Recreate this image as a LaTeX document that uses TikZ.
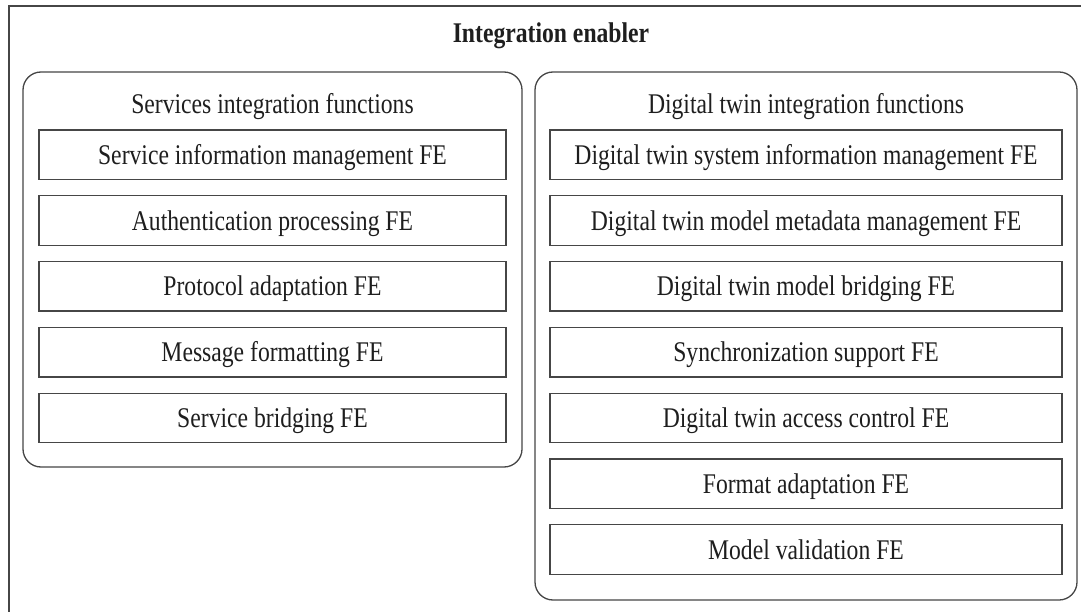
\documentclass[tikz,border=0pt]{standalone}
\usepackage{fontspec}
\setmainfont{Liberation Serif}
% the figure's lettering is a little narrow for its height
\newfontfamily\narrowserif[FakeStretch=0.83]{Liberation Serif}
\definecolor{linecol}{RGB}{70,70,70}
\definecolor{txtcol}{RGB}{30,30,30}
\begin{document}
\begin{tikzpicture}[x=1pt, y=-1pt,
  every node/.style={font=\narrowserif\fontsize{28.5}{32}\selectfont, text=txtcol},
  group/.style={draw=linecol, line width=1.3pt, rounded corners=18pt, inner sep=0pt},
  fe/.style={draw=linecol, line width=1.3pt, inner sep=0pt,
             minimum height=49.5pt, text height=19pt, text depth=0pt},
  lfe/.style={fe, minimum width=467pt},
  rfe/.style={fe, minimum width=512pt},
  heading/.style={inner sep=0pt, anchor=base}
]
\useasboundingbox (0,0) rectangle (1081,612);
\fill[white] (0,0) rectangle (1081,612);
\clip (0,0) rectangle (1081,612);

% outer enabler frame (runs past the right and bottom edges)
\draw[linecol, line width=1.3pt] (9,640) -- (9,6) -- (1110,6);
\node[heading, font=\narrowserif\fontsize{28.5}{32}\selectfont\bfseries] (title) at (551,43) {Integration enabler};

% services integration functions
\node[group, minimum width=499pt, minimum height=395pt] (svc) at (272.5,269.5) {};
\node[heading] (svct) at (272.5,113.5) {Services integration functions};
\node[lfe] (s1) at (272.5,154.75) {Service information management FE};
\node[lfe] (s2) at (272.5,220.55) {Authentication processing FE};
\node[lfe] (s3) at (272.5,286.35) {Protocol adaptation FE};
\node[lfe] (s4) at (272.5,352.15) {Message formatting FE};
\node[lfe] (s5) at (272.5,417.95) {Service bridging FE};

% digital twin integration functions
\node[group, minimum width=542pt, minimum height=528pt] (dt) at (806,336) {};
\node[heading] (dtt) at (806,113.5) {Digital twin integration functions};
\node[rfe] (d1) at (806,154.75) {Digital twin system information management FE};
\node[rfe] (d2) at (806,220.55) {Digital twin model metadata management FE};
\node[rfe] (d3) at (806,286.35) {Digital twin model bridging FE};
\node[rfe] (d4) at (806,352.15) {Synchronization support FE};
\node[rfe] (d5) at (806,417.95) {Digital twin access control FE};
\node[rfe] (d6) at (806,483.75) {Format adaptation FE};
\node[rfe] (d7) at (806,549.55) {Model validation FE};
\end{tikzpicture}
\end{document}
